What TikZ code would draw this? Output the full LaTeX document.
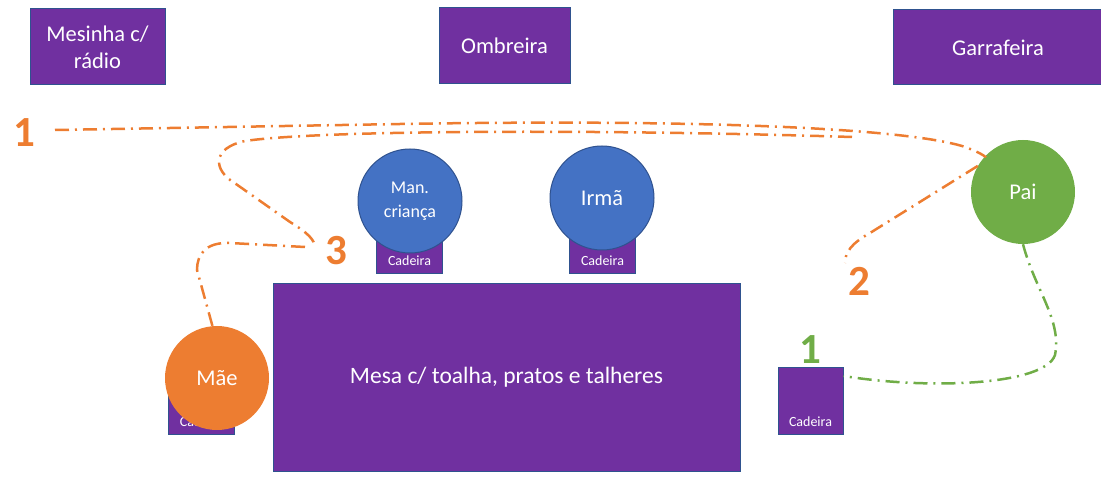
\documentclass[tikz,border=0pt]{standalone}
\usepackage{fontspec}
\setmainfont{Carlito}
\usetikzlibrary{positioning}

\definecolor{roxo}{HTML}{7030A0}
\definecolor{contorno}{HTML}{2F528F}
\definecolor{laranja}{HTML}{ED7D31}
\definecolor{verde}{HTML}{70AD47}
\definecolor{azul}{HTML}{4472C4}

\begin{document}
\begin{tikzpicture}[x=1pt, y=-1pt, every node/.style={inner sep=0pt},
    movel/.style={draw=contorno, fill=roxo, line width=1pt, text=white, align=center, font=\fontsize{22.5}{27}\selectfont},
    cadeira/.style={draw=contorno, fill=roxo, line width=1pt, text=white, minimum width=66pt, text height=59pt, text depth=8pt, font=\fontsize{14}{16}\selectfont},
    pessoa/.style={circle, minimum size=104pt, text=white, align=center, font=\fontsize{22.5}{27}\selectfont},
    percurso/.style={line width=2.5pt, dash pattern=on 14pt off 6pt on 2pt off 6pt},
    numero/.style={font=\fontsize{43}{43}\selectfont\bfseries}]
      \useasboundingbox (0,0) rectangle (1101,478);

      % mobilia
      \node[movel, minimum width=135pt, minimum height=76pt] (mesinha) at (97.5,47) {Mesinha c/\\rádio};
      \node[movel, minimum width=131pt, minimum height=76pt] (ombreira) at (504.5,46) {Ombreira};
      \node[movel, minimum width=210pt, minimum height=75pt] (garrafeira) at (998,47.5) {Garrafeira};
      \node[movel, minimum width=467pt, minimum height=187pt, font=\fontsize{23.5}{28}\selectfont] (mesa) at (506.5,377.5) {Mesa c/ toalha, pratos e talheres};

      % cadeiras
      \node[cadeira, anchor=south] (cadeiraMan) at (409.5,274) {Cadeira};
      \node[cadeira, anchor=south] (cadeiraIrma) at (602.5,274) {Cadeira};
      \node[cadeira, anchor=south] (cadeiraMae) at (201.5,435) {Cadeira};
      \node[cadeira, anchor=south, minimum width=65pt] (cadeiraDir) at (810.5,435) {Cadeira};

      % pessoas
      \node[pessoa, draw=contorno, line width=1pt, fill=azul, font=\fontsize{18}{24}\selectfont] (man) at (410,201) {Man.\\criança};
      \node[pessoa, draw=contorno, line width=1pt, fill=azul] (irma) at (602,198) {Irmã};
      \node[pessoa, fill=verde] (pai) at (1023,192) {Pai};
      \node[pessoa, fill=laranja] (mae) at (217,378) {Mãe};

      % numeros
      \node[numero, text=laranja] (n1) at (24,133) {1};
      \node[numero, text=laranja] (n2) at (859,281) {2};
      \node[numero, text=laranja] (n3) at (336,251) {3};
      \node[numero, text=verde, above=3pt of cadeiraDir] (v1) {1};

      % percursos
      \coordinate (o1) at (55,130);
      \coordinate (o2) at (845,263);
      \coordinate (o3a) at (852,137);
      \coordinate (o3b) at (315,248);
      \coordinate (o4) at (305,247);
      \draw[percurso, laranja] (o1) -- (400,124) .. controls (700,119) and (900,128) .. (962,146) .. controls (980,152) and (988,158) .. (pai.138);
      \draw[percurso, laranja] (pai.150) -- (870,233) .. controls (852,243) and (845,252) .. (o2);
      \draw[percurso, laranja] (o3a) .. controls (600,129) and (320,130) .. (245,141) .. controls (212,148) and (212,170) .. (236,184) -- (290,222) .. controls (308,233) and (315,240) .. (o3b);
      \draw[percurso, laranja] (o4) -- (230,243) .. controls (205,242) and (197,255) .. (197,270) -- (mae.95);
      \draw[percurso, verde] (pai.south) .. controls (1035,290) and (1062,320) .. (1055,355) .. controls (1045,385) and (930,390) .. ([yshift=-9pt]cadeiraDir.north east);
\end{tikzpicture}
\end{document}
